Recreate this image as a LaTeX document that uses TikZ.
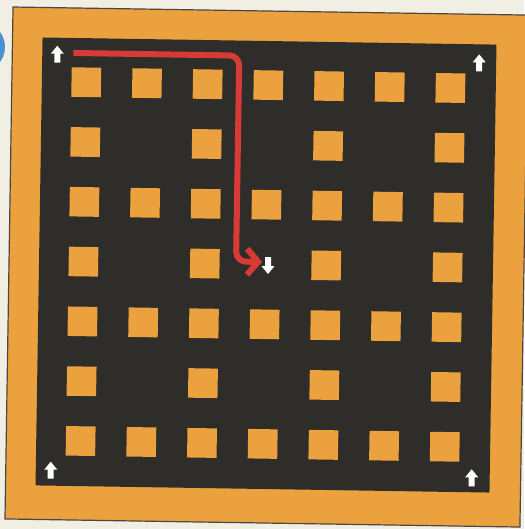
\documentclass[tikz,border=0pt]{standalone}
\usetikzlibrary{arrows.meta}
\definecolor{bgcream}{HTML}{F1EEE3}
\definecolor{frameorange}{HTML}{EBA13D}
\definecolor{boarddark}{HTML}{2F2D29}
\definecolor{frameline}{HTML}{4A4845}
\definecolor{pathred}{HTML}{D83A38}
\definecolor{badgeblue}{HTML}{4A8FD2}
\begin{document}
\begin{tikzpicture}[x=1pt,y=-1pt,
  tile/.style={rectangle, fill=frameorange, minimum size=29.5pt, inner sep=0pt, draw=none, transform shape},
  outerframe/.style={fill=frameorange, draw=frameline, line width=1.2pt},
  board/.style={fill=boarddark},
  redpath/.style={draw=pathred, line width=6pt, rounded corners=10pt, -{Straight Barb[length=11pt,width=26pt]}},
  uparrow/.pic={\fill[white] (0,-9) -- (6.5,-1) -- (3,-1) -- (3,8) -- (-3,8) -- (-3,-1) -- (-6.5,-1) -- cycle;}
]
\useasboundingbox (0,0) rectangle (524,529);
\fill[bgcream] (0,0) rectangle (524,529);
\fill[badgeblue] (-20,47) circle (25);
\begin{scope}[shift={(265,265)}, rotate=-0.9]
  \draw[outerframe] (-256,-254) rectangle (259,258);
  \fill[board] (-226,-224) rectangle (228,224);
  \foreach \r in {1,...,7} {
    \foreach \c in {1,...,7} {
      \pgfmathtruncatemacro{\keep}{mod(\r,2)+mod(\c,2)}
      \ifnum\keep>0
        \node[tile] (t-\r-\c) at ({0.5+(\c-4)*60.7},{-0.5+(\r-4)*59.8}) {};
      \fi
    }
  }
  \pic at (-211,-207) {uparrow};
  \pic at (211,-205) {uparrow};
  \pic at (-211,209) {uparrow};
  \pic at (210,210) {uparrow};
  \pic[rotate=180] at (3,0) {uparrow};
  \coordinate (redstart) at (-195,-209);
  \coordinate (redend) at (-3,-3);
  \draw[redpath] (redstart) -- (-29,-209) -- (-29,-3) -- (redend);
\end{scope}
\end{tikzpicture}
\end{document}
